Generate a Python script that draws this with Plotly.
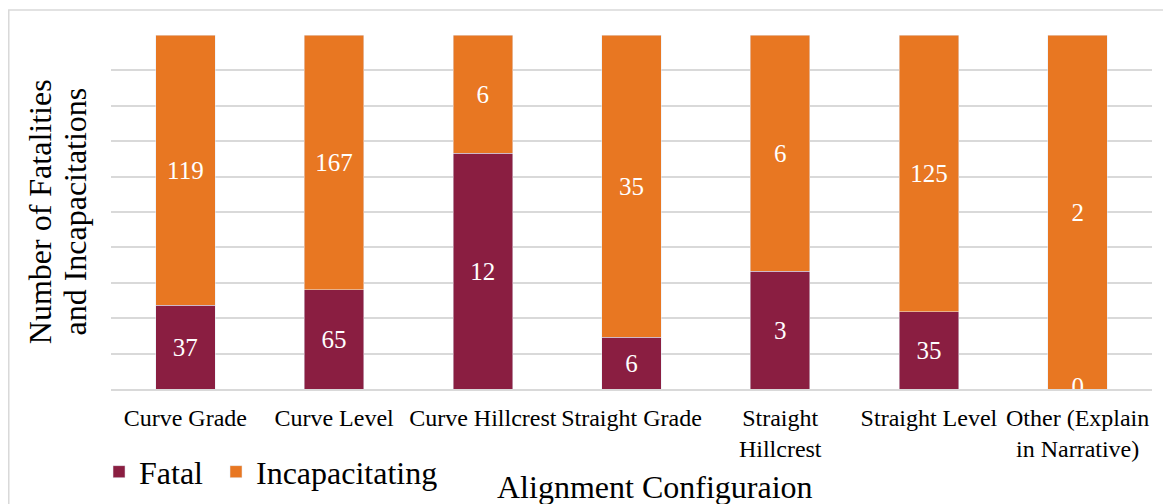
import plotly.graph_objects as go

categories = ["Curve Grade", "Curve Level", "Curve Hillcrest", "Straight Grade",
              "Straight<br>Hillcrest", "Straight Level", "Other (Explain<br>in Narrative)"]
fatal = [37, 65, 12, 6, 3, 35, 0]
incapacitating = [119, 167, 6, 35, 6, 125, 2]

FONT = "Liberation Serif, Times New Roman, serif"
MAROON = "#8a1e41"
ORANGE = "#e87722"

fig = go.Figure()
fig.add_trace(go.Bar(
    x=categories, y=fatal, name="Fatal\u00a0", marker_color=MAROON,
    text=[str(v) for v in fatal], textposition="inside",
    insidetextanchor="middle", textangle=0,
    textfont=dict(family=FONT, size=25, color="white"),
))
fig.add_trace(go.Bar(
    x=categories, y=incapacitating, name="Incapacitating", marker_color=ORANGE,
    text=[str(v) for v in incapacitating], textposition="inside",
    insidetextanchor="middle", textangle=0,
    textfont=dict(family=FONT, size=25, color="white"),
))

# zero-height segments still get a label in the original, half hidden by the axis
zero_cats = [c for c, v in zip(categories, fatal) if v == 0]
zero_vals = [v for v in fatal if v == 0]
fig.add_trace(go.Scatter(
    x=zero_cats, y=zero_vals, mode="text", text=[str(v) for v in zero_vals],
    textposition="middle center", cliponaxis=True, showlegend=False, hoverinfo="skip",
    textfont=dict(family=FONT, size=25, color="white"),
))

fig.add_annotation(text="Alignment Configuraion", x=0.523, y=-0.277, xref="paper", yref="paper",
                   showarrow=False, yanchor="middle", font=dict(family=FONT, size=32, color="black"))
for txt, xp in [("Number of Fatalities", -0.068), ("and Incapacitations", -0.035)]:
    fig.add_annotation(text=txt, textangle=-90, x=xp, y=0.5, xref="paper", yref="paper",
                       showarrow=False, xanchor="center", yanchor="middle",
                       font=dict(family=FONT, size=32, color="black"))

# outer chart border
fig.add_shape(type="rect", xref="paper", yref="paper", x0=-0.0982, x1=1.03, y0=-0.35, y1=1.0706,
              line=dict(color="#d9d9d9", width=1.5), layer="below")

# page body has an 8px margin, so the figure is 8px smaller and offset accordingly
fig.update_layout(
    width=1163, height=496,
    margin=dict(l=103, r=19, t=27, b=115, autoexpand=False),
    barmode="stack", barnorm="percent", bargap=0.6,
    plot_bgcolor="white", paper_bgcolor="white",
    font=dict(family=FONT, color="black"),
    showlegend=True,
    legend=dict(orientation="h", x=-0.0115, y=-0.234, xanchor="left", yanchor="middle",
                font=dict(family=FONT, size=32, color="black"), traceorder="normal"),
)
fig.update_xaxes(showline=True, linecolor="#d9d9d9", linewidth=1.5, ticks="",
                 ticklabelstandoff=6,
                 tickfont=dict(family=FONT, size=24, color="black"))
fig.update_yaxes(range=[0, 100], dtick=10, showticklabels=False, gridcolor="#d9d9d9",
                 gridwidth=1.5, zeroline=False)

fig.write_html("out.html")
